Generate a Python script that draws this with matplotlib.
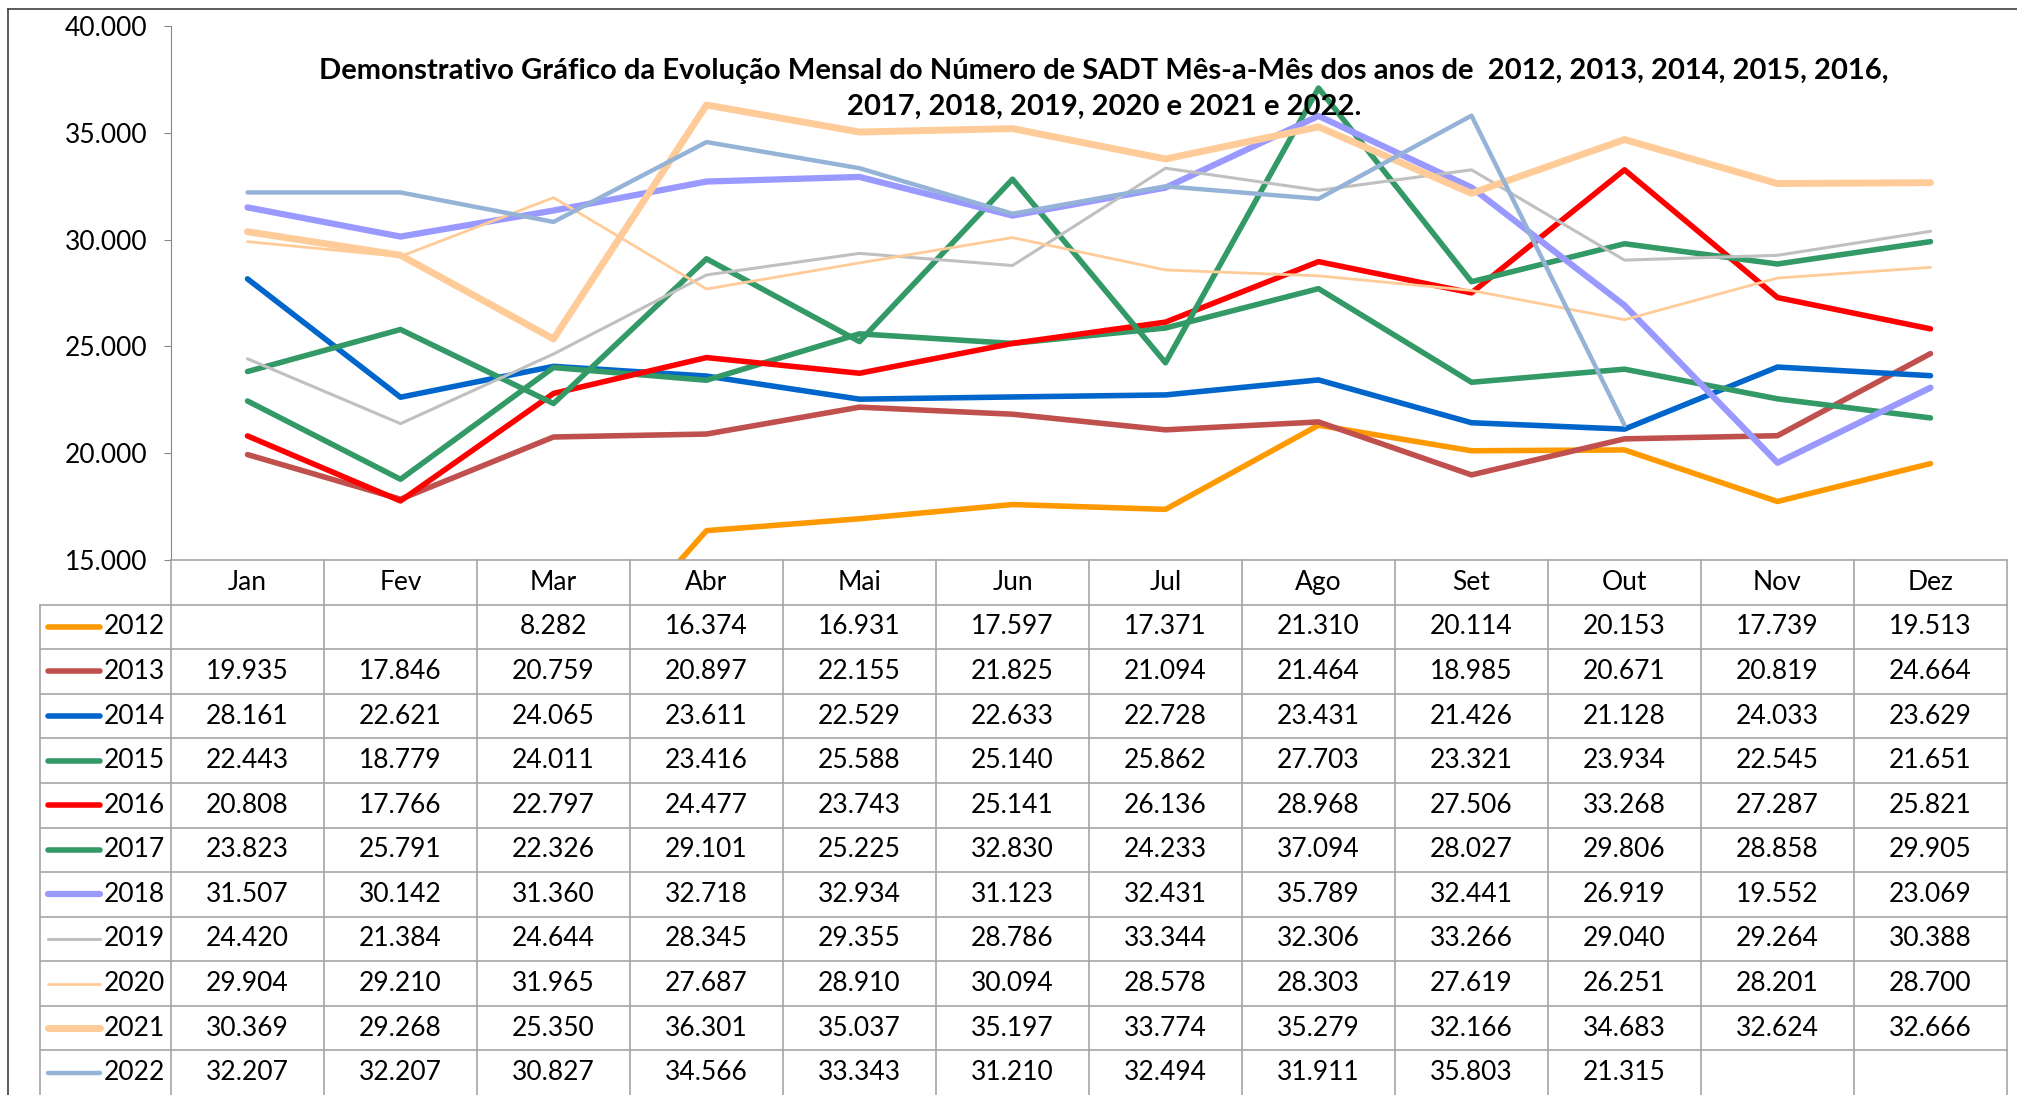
import numpy as np
import matplotlib
matplotlib.use("Agg")
import matplotlib.pyplot as plt
from matplotlib.lines import Line2D

plt.rcParams['font.family'] = ['Lato', 'DejaVu Sans']

nan = np.nan

months = ["Jan", "Fev", "Mar", "Abr", "Mai", "Jun", "Jul", "Ago", "Set", "Out", "Nov", "Dez"]
years = ["2012", "2013", "2014", "2015", "2016", "2017", "2018", "2019", "2020", "2021", "2022"]

v2012 = [nan, nan, 8282, 16374, 16931, 17597, 17371, 21310, 20114, 20153, 17739, 19513]
v2013 = [19935, 17846, 20759, 20897, 22155, 21825, 21094, 21464, 18985, 20671, 20819, 24664]
v2014 = [28161, 22621, 24065, 23611, 22529, 22633, 22728, 23431, 21426, 21128, 24033, 23629]
v2015 = [22443, 18779, 24011, 23416, 25588, 25140, 25862, 27703, 23321, 23934, 22545, 21651]
v2016 = [20808, 17766, 22797, 24477, 23743, 25141, 26136, 28968, 27506, 33268, 27287, 25821]
v2017 = [23823, 25791, 22326, 29101, 25225, 32830, 24233, 37094, 28027, 29806, 28858, 29905]
v2018 = [31507, 30142, 31360, 32718, 32934, 31123, 32431, 35789, 32441, 26919, 19552, 23069]
v2019 = [24420, 21384, 24644, 28345, 29355, 28786, 33344, 32306, 33266, 29040, 29264, 30388]
v2020 = [29904, 29210, 31965, 27687, 28910, 30094, 28578, 28303, 27619, 26251, 28201, 28700]
v2021 = [30369, 29268, 25350, 36301, 35037, 35197, 33774, 35279, 32166, 34683, 32624, 32666]
v2022 = [32207, 32207, 30827, 34566, 33343, 31210, 32494, 31911, 35803, 21315, nan, nan]

series = [v2012, v2013, v2014, v2015, v2016, v2017, v2018, v2019, v2020, v2021, v2022]
colors = ["#FF9900", "#C0504D", "#0066CC", "#339966", "#FF0000", "#339966",
          "#9999FF", "#C0C0C0", "#FFCC99", "#FFCC99", "#95B3D7"]
widths = [4.0, 4.0, 4.0, 4.0, 4.0, 4.0, 4.5, 2.2, 2.0, 5.0, 3.2]

W, H = 2017, 1095
fig = plt.figure(figsize=(W / 100, H / 100), dpi=100)

# plot area
x0, x1, ytop, ybot = 171, 2007, 26, 560
ax = fig.add_axes([x0 / W, 1 - ybot / H, (x1 - x0) / W, (ybot - ytop) / H])
x = np.arange(12)
for vals, c, lw in zip(series, colors, widths):
    ax.plot(x, vals, color=c, lw=lw, solid_capstyle='round', solid_joinstyle='round')
ax.set_xlim(-0.5, 11.5)
ax.set_ylim(15000, 40000)
ax.set_yticks(range(15000, 40001, 5000))
ax.set_yticklabels([f"{t:,}".replace(",", ".") for t in range(15000, 40001, 5000)], fontsize=19)
ax.set_xticks([])
for s in ["top", "right", "bottom"]:
    ax.spines[s].set_visible(False)
ax.spines["left"].set_color("#868686")
ax.tick_params(axis='y', direction='out', length=5, color="#868686", pad=12)

title = ("Demonstrativo Gráfico da Evolução Mensal do Número de SADT Mês-a-Mês dos anos de  "
         "2012, 2013, 2014, 2015, 2016,\n2017, 2018, 2019, 2020 e 2021 e 2022.")
fig.text(1104 / W, 1 - 89 / H, title, ha='center', va='center', fontsize=21,
         fontweight='bold', linespacing=1.5, multialignment='center')

# data table below the plot
col = (x1 - x0) / 12
lab = (x0 - 40) / col
tab = fig.add_axes([40 / W, 0, (x1 - 40) / W, (H - ybot) / H])
tab.set_xlim(-0.5 - lab, 11.5)
tab.set_ylim(12, 0)
tab.axis('off')
gc, glw = "#A6A6A6", 1.2
tab.plot([-0.5, 11.5], [0, 0], color=gc, lw=glw, clip_on=False)
for r in range(1, 12):
    tab.plot([-0.5 - lab, 11.5], [r, r], color=gc, lw=glw, clip_on=False)
tab.plot([-0.5 - lab, -0.5 - lab], [1, 12], color=gc, lw=glw, clip_on=False)
for k in range(13):
    tab.plot([k - 0.5, k - 0.5], [0, 12], color=gc, lw=glw, clip_on=False)

for i, m in enumerate(months):
    tab.text(i, 0.5, m, ha='center', va='center', fontsize=19)


def px(p):
    return (p - x0) / col - 0.5


for r, (yr, vals, c, lw) in enumerate(zip(years, series, colors, widths), start=1):
    tab.plot([px(48), px(100)], [r + 0.5, r + 0.5], color=c, lw=lw, solid_capstyle='round')
    tab.text(px(104), r + 0.5, yr, ha='left', va='center', fontsize=19)
    for i, v in enumerate(vals):
        if not np.isnan(v):
            tab.text(i, r + 0.5, f"{int(v):,}".replace(",", "."), ha='center', va='center', fontsize=19)

# outer chart border
fig.add_artist(Line2D([8 / W, 1], [1 - 9 / H, 1 - 9 / H], color="#404040", lw=1.2))
fig.add_artist(Line2D([8 / W, 8 / W], [0, 1 - 9 / H], color="#404040", lw=1.2))

fig.savefig("out.png", dpi=100, facecolor="white")
